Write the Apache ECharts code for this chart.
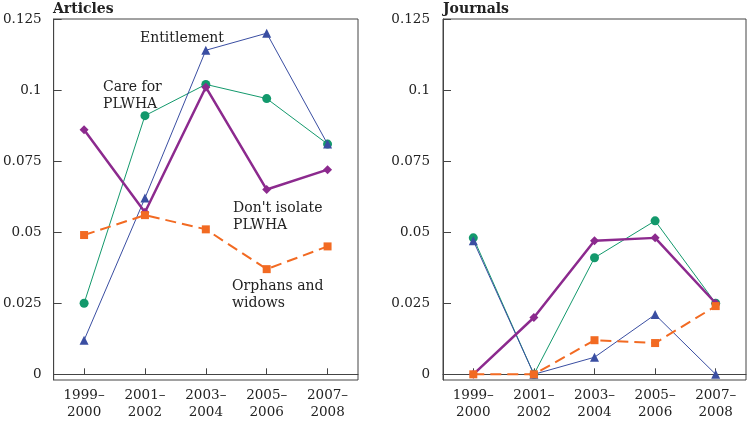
<!DOCTYPE html>
<html>
<head>
<meta charset="utf-8">
<script src="https://cdn.jsdelivr.net/npm/echarts@6/dist/echarts.min.js"></script>
<style>html,body{margin:0;padding:0;background:#fff}#c{width:750px;height:421px}</style>
</head>
<body>
<div id="c"></div>
<script>
const categories = ['1999–\n2000', '2001–\n2002', '2003–\n2004', '2005–\n2006', '2007–\n2008'];
const yTicks = [0, 0.025, 0.05, 0.075, 0.1, 0.125];

const articlesEntitlement = [0.012, 0.062, 0.114, 0.120, 0.081];
const articlesCare = [0.025, 0.091, 0.102, 0.097, 0.081];
const articlesIsolate = [0.086, 0.057, 0.101, 0.065, 0.072];
const articlesOrphans = [0.049, 0.056, 0.051, 0.037, 0.045];

const journalsEntitlement = [0.047, 0, 0.006, 0.021, 0];
const journalsCare = [0.048, 0, 0.041, 0.054, 0.025];
const journalsIsolate = [0, 0.020, 0.047, 0.048, 0.025];
const journalsOrphans = [0, 0, 0.012, 0.011, 0.024];

const FONT = 'DejaVu Serif';
const C_BLUE = '#3a4ea2', C_GREEN = '#13996c', C_PURPLE = '#8c2a8e', C_ORANGE = '#f26a22';

function xAxis(gi) {
  return {
    type: 'category', gridIndex: gi, data: categories, boundaryGap: true,
    axisLine: { show: true, lineStyle: { color: '#444', width: 1 } },
    axisTick: { show: true, inside: true, alignWithLabel: true, length: 6, lineStyle: { color: '#444' } },
    axisLabel: { color: '#222', fontFamily: FONT, fontSize: 13.5, lineHeight: 17, margin: 7 },
    splitLine: { show: false }
  };
}
function yAxis(gi, margin) {
  return {
    type: 'value', gridIndex: gi, min: -0.002, max: 0.125,
    axisLine: { show: true, lineStyle: { color: '#444', width: 1 } },
    axisTick: { show: true, inside: true, length: 8, customValues: yTicks, lineStyle: { color: '#444' } },
    axisLabel: { color: '#222', fontFamily: FONT, fontSize: 13.5, margin: margin, customValues: yTicks,
      formatter: v => String(+v.toFixed(3)) },
    splitLine: { show: false }
  };
}
function series(gi, care, ent, iso, orph) {
  return [
    { type: 'line', xAxisIndex: gi, yAxisIndex: gi, data: care, symbol: 'circle', symbolSize: 9,
      lineStyle: { color: C_GREEN, width: 1 }, itemStyle: { color: C_GREEN }, z: 2 },
    { type: 'line', xAxisIndex: gi, yAxisIndex: gi, data: ent, symbol: 'triangle', symbolSize: 9,
      lineStyle: { color: C_BLUE, width: 1 }, itemStyle: { color: C_BLUE }, z: 3 },
    { type: 'line', xAxisIndex: gi, yAxisIndex: gi, data: iso, symbol: 'diamond', symbolSize: 9,
      lineStyle: { color: C_PURPLE, width: 2.5 }, itemStyle: { color: C_PURPLE }, z: 4 },
    { type: 'line', xAxisIndex: gi, yAxisIndex: gi, data: orph, symbol: 'rect', symbolSize: 8,
      lineStyle: { color: C_ORANGE, width: 2, type: [11, 6] }, itemStyle: { color: C_ORANGE }, z: 5 }
  ];
}
function txt(x, y, s, bold) {
  return { type: 'text', x: x, y: y, silent: true,
    style: { text: s, fill: '#222', font: (bold ? 'bold ' : '') + '14px "' + FONT + '"',
      verticalAlign: 'middle', lineHeight: 17 } };
}

const chart = echarts.init(document.getElementById('c'), null, { renderer: 'canvas' });
chart.setOption({
  animation: false,
  backgroundColor: '#fff',
  grid: [
    { left: 53, right: 392, top: 19, bottom: 41, show: true, borderColor: '#444', borderWidth: 1 },
    { left: 443, right: 4, top: 19, bottom: 41, show: true, borderColor: '#444', borderWidth: 1 }
  ],
  xAxis: [xAxis(0), xAxis(1)],
  yAxis: [yAxis(0, 12), yAxis(1, 13)],
  series: [].concat(
    series(0, articlesCare, articlesEntitlement, articlesIsolate, articlesOrphans),
    series(1, journalsCare, journalsEntitlement, journalsIsolate, journalsOrphans)
  ),
  graphic: [
    txt(53, 9, 'Articles', true),
    txt(443, 9, 'Journals', true),
    txt(140, 38, 'Entitlement'),
    txt(103, 95.5, 'Care for\nPLWHA'),
    txt(233, 216.5, "Don't isolate\nPLWHA"),
    txt(232, 294.5, 'Orphans and\nwidows')
  ]
});
</script>
</body>
</html>
